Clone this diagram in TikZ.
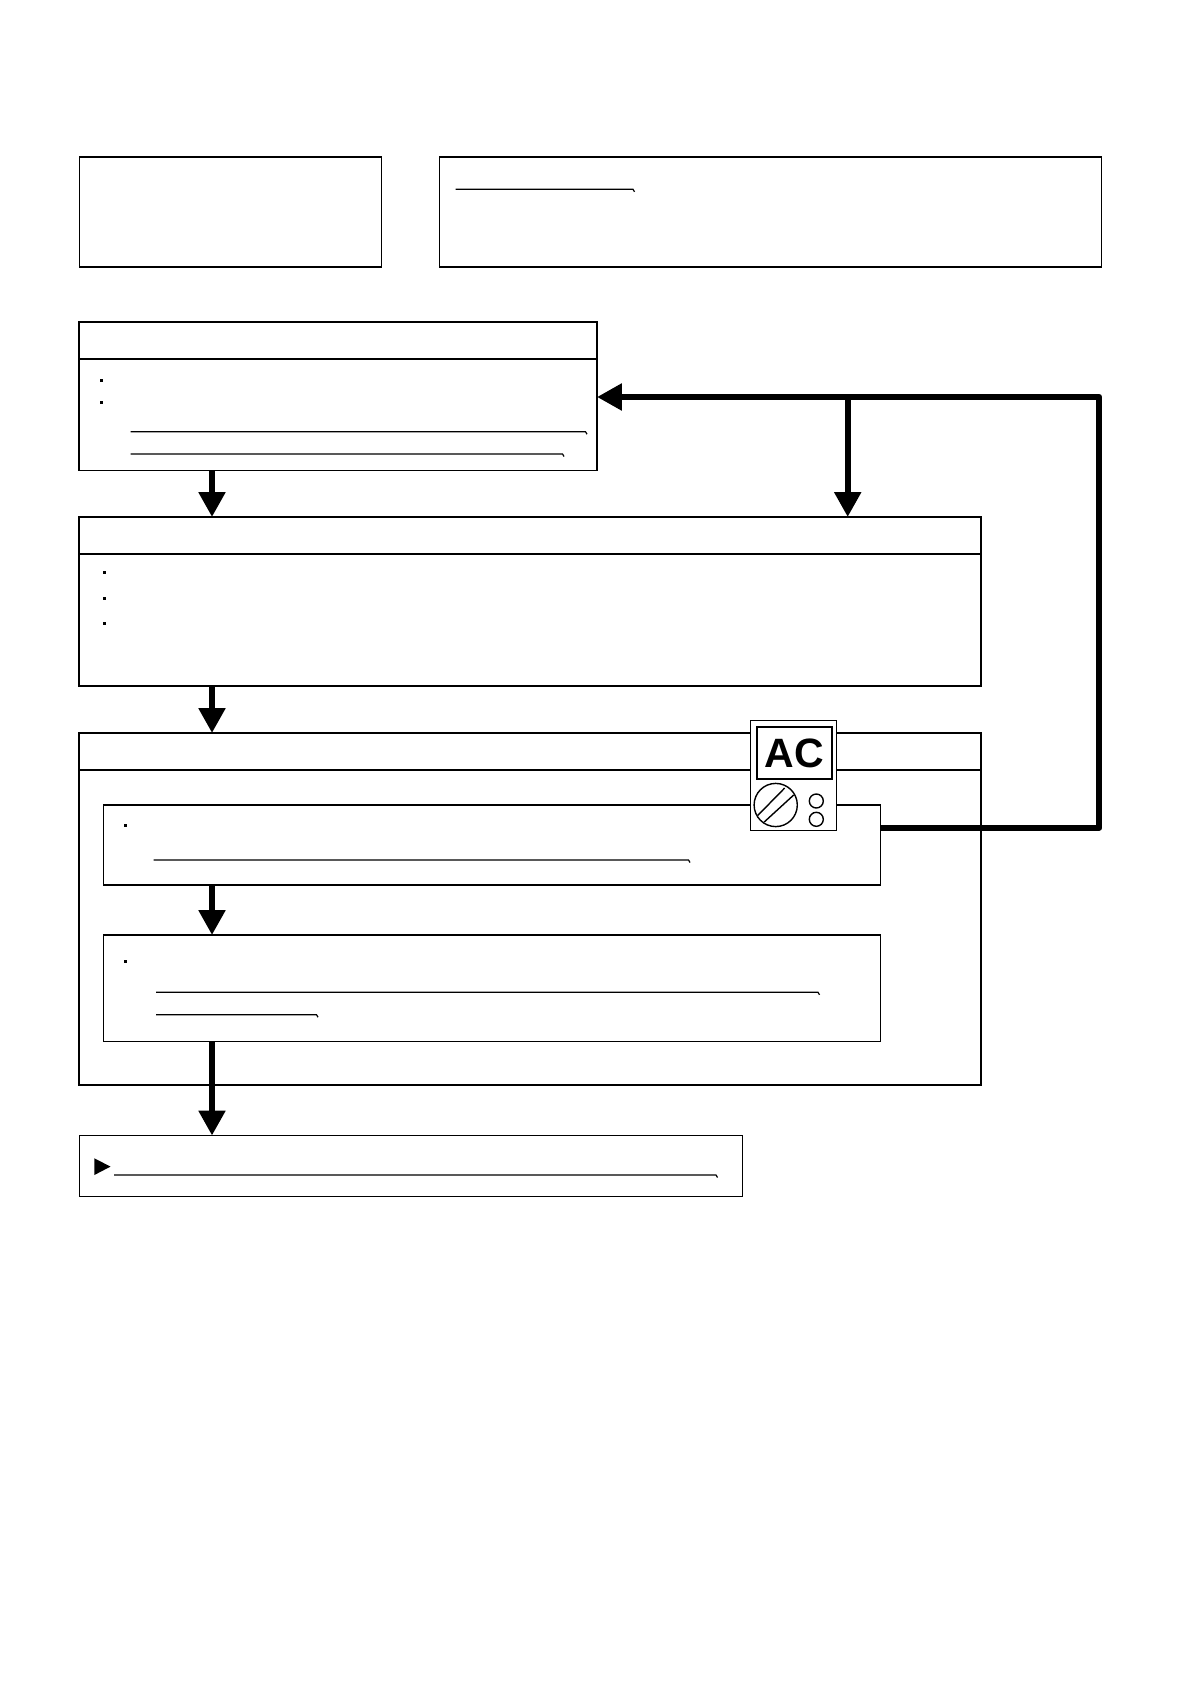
\documentclass[tikz,border=0pt]{standalone}
\usepackage{fontspec}
\setmainfont{Liberation Sans}
\usetikzlibrary{arrows.meta,calc}
\tikzset{
  boxthin/.style={draw=black,line width=0.65pt,fill=none,inner sep=0pt,outer sep=0pt,anchor=north west},
  boxthick/.style={boxthin,line width=0.85pt},
  bulletdot/.style={fill=black,draw=none,inner sep=0pt,outer sep=0pt,minimum size=1.8pt,shape=rectangle},
  bulletsmall/.style={bulletdot,minimum size=1.3pt},
  rulestroke/.style={draw=black,line width=0.6pt},
  divider/.style={draw=black,line width=0.85pt},
  flowarrow/.style={draw=black,line width=3pt,-{Triangle[width=12.8pt,length=12.4pt]}},
  looparrow/.style={draw=black,line width=3.1pt,line join=round,-{Triangle[width=12.8pt,length=12.4pt]}},
  meterpart/.style={draw=black,line width=0.7pt},
}
% name, x1, y1, x2, y2 in reference pixels
\newcommand{\pxbox}[6][boxthin]{%
  \node[#1,minimum width={(#5-#3)*0.5pt},minimum height={(#6-#4)*0.5pt}] (#2) at (#3,#4) {};}
% underline with a small hook at the right end
\newcommand{\pxrule}[3]{\draw[rulestroke] (#1,#3) -- (#2,#3) -- ++(1.5,2.5);}
\begin{document}
\begin{tikzpicture}[x=0.5pt,y=-0.5pt]
\useasboundingbox (0,0) rectangle (1192,1684);
\fill[white] (0,0) rectangle (1192,1684);

% top boxes
\pxbox[boxthick]{topleft}{79.6}{157}{381.4}{267}
\pxbox{topright}{439.3}{157}{1101.3}{267}
\pxrule{455.7}{633}{189.3}

% first step
\pxbox[boxthick]{stepone}{78.8}{322}{597}{470.5}
\draw[divider] (stepone.west |- 0,359.3) -- (stepone.east |- 0,359.3);
\node[bulletdot] (s1a) at (101.4,380.7) {};
\node[bulletdot] (s1b) at (101.4,402.7) {};
\pxrule{130.7}{585.5}{431.7}
\pxrule{130.7}{562.5}{454}

% second step
\pxbox[boxthick]{steptwo}{79}{517}{981}{685.7}
\draw[divider] (steptwo.west |- 0,553.7) -- (steptwo.east |- 0,553.7);
\node[bulletdot] (s2a) at (104.3,572.3) {};
\node[bulletdot] (s2b) at (104.3,598.3) {};
\node[bulletdot] (s2c) at (104.3,623.3) {};

% third step
\pxbox[boxthick]{stepthree}{79}{733}{981}{1084.7}
\draw[divider] (stepthree.west |- 0,770) -- (stepthree.east |- 0,770);
\pxbox{innerone}{103.6}{805}{880.3}{885}
\node[bulletsmall] (i1a) at (125.4,825.7) {};
\pxrule{153.5}{688.5}{860}
\pxbox{innertwo}{103.6}{935}{880.3}{1041.3}
\node[bulletdot] (i2a) at (125.4,961.3) {};
\pxrule{156}{818}{992.3}
\pxrule{156}{316.5}{1014.7}

% last box
\pxbox{finalbox}{79.3}{1135.5}{742.3}{1196.7}
\fill[black] (94.4,1158.3) -- (110.5,1166.6) -- (94.4,1175) -- cycle;
\pxrule{114.2}{716}{1175}

% connectors
\coordinate (colA) at (212,0);
\coordinate (colB) at (847.7,0);
\coordinate (loopY) at (0,397);
\coordinate (loopX) at (1099.3,0);
\coordinate (loopStartY) at (0,827.6);
\draw[flowarrow] (stepone.south -| colA) -- (steptwo.north -| colA);
\draw[flowarrow] (steptwo.south -| colA) -- (stepthree.north -| colA);
\draw[flowarrow] (innerone.south -| colA) -- (innertwo.north -| colA);
\draw[flowarrow] (innertwo.south -| colA) -- (finalbox.north -| colA);
\draw[looparrow] (innerone.east |- loopStartY) -- (loopX |- loopStartY) -- (loopX |- loopY) -- (stepone.east |- loopY);
\draw[flowarrow] (colB |- loopY) -- (steptwo.north -| colB);

% meter
\pxbox[boxthin,fill=white]{meter}{750.7}{720.7}{836.7}{830.3}
\node[draw=black,line width=0.85pt,fill=white,inner sep=0pt,outer sep=0pt,minimum width=37.8pt,minimum height=26.3pt,font=\fontsize{20.5pt}{21pt}\selectfont\bfseries] (display) at (794.5,753) {\raisebox{0.3pt}{AC}};
\node[meterpart,shape=circle,minimum size=21.6pt,inner sep=0pt] (dial) at (775.7,805) {};
\draw[meterpart] ($(dial.center)+(-18,10.5)$) -- ($(dial.center)+(9,-17)$);
\draw[meterpart] ($(dial.center)+(-11.5,17)$) -- ($(dial.center)+(18,-10)$);
\node[meterpart,shape=circle,minimum size=7pt,inner sep=0pt] (knobA) at (816.3,801) {};
\node[meterpart,shape=circle,minimum size=7pt,inner sep=0pt] (knobB) at (816.3,819.3) {};
\end{tikzpicture}
\end{document}
